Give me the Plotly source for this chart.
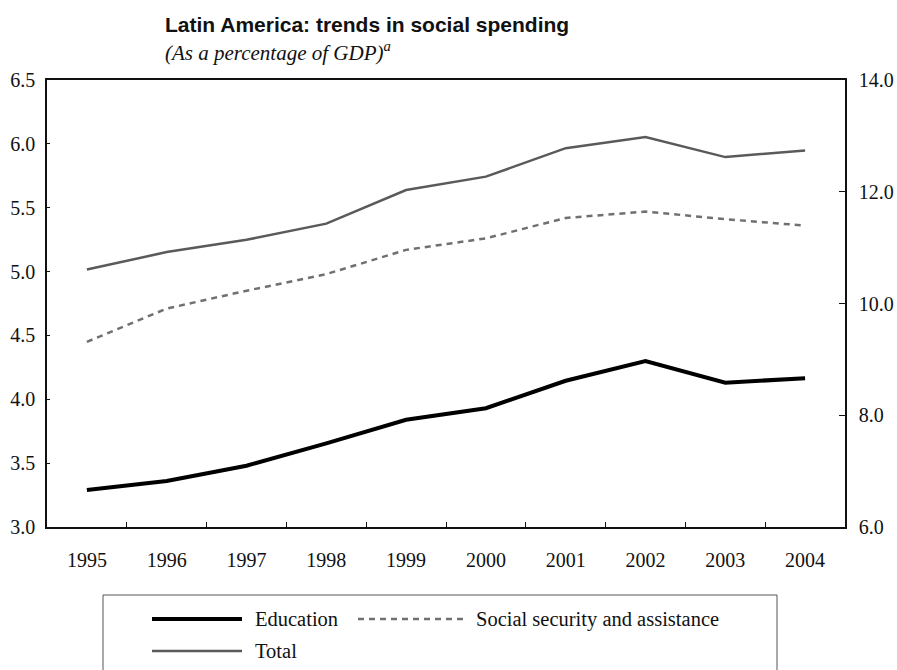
import plotly.graph_objects as go

# ---- data ----
years = ["1995", "1996", "1997", "1998", "1999", "2000", "2001", "2002", "2003", "2004"]
education = [3.29, 3.36, 3.48, 3.655, 3.84, 3.93, 4.145, 4.30, 4.13, 4.165]
social_security = [4.45, 4.71, 4.85, 4.98, 5.17, 5.26, 5.42, 5.47, 5.41, 5.36]
total = [10.61, 10.92, 11.14, 11.43, 12.03, 12.27, 12.78, 12.98, 12.62, 12.74]

left_ticks = [3.0, 3.5, 4.0, 4.5, 5.0, 5.5, 6.0, 6.5]
right_ticks = [6.0, 8.0, 10.0, 12.0, 14.0]

names = ["Education", "Social security and assistance", "Total"]

# ---- layout geometry ----
W, H = 897, 670
ML, MR, MT, MB = 47, 52, 80, 143
PW, PH = W - ML - MR, H - MT - MB

def px(x):
    return (x - ML) / PW

def py(y):
    return (H - MB - y) / PH

SERIF = "Liberation Serif, Times New Roman, serif"
SANS = "Liberation Sans, Arial, sans-serif"

styles = {
    "Education": dict(color="#000000", width=4),
    "Social security and assistance": dict(color="#707070", width=2.5, dash="6px,5px"),
    "Total": dict(color="#5a5a5a", width=2.5),
}

fig = go.Figure()
fig.add_trace(go.Scatter(x=years, y=education, mode="lines", name=names[0],
                         line=styles[names[0]], showlegend=False))
fig.add_trace(go.Scatter(x=years, y=social_security, mode="lines", name=names[1],
                         line=styles[names[1]], showlegend=False))
fig.add_trace(go.Scatter(x=years, y=total, mode="lines", name=names[2],
                         line=styles[names[2]], yaxis="y2", showlegend=False))

fig.update_layout(
    width=W, height=H, autosize=False,
    margin=dict(l=ML, r=MR, t=MT, b=MB, pad=0, autoexpand=False),
    paper_bgcolor="white", plot_bgcolor="white",
    showlegend=False,
    font=dict(family=SERIF, size=20, color="#111111"),
    xaxis=dict(
        type="category", tickson="boundaries", range=[-0.5, 9.5],
        automargin=False,
        showline=True, linecolor="#111111", linewidth=1.5, mirror=True,
        ticks="inside", ticklen=5, tickcolor="#111111", tickwidth=1,
        showgrid=False, zeroline=False,
        tickfont=dict(family=SERIF, size=20, color="#111111"),
        ticklabelstandoff=14,
    ),
    yaxis=dict(
        range=[3.0, 6.5], tickvals=left_ticks, tickformat=".1f",
        automargin=False,
        showline=True, linecolor="#111111", linewidth=1.5,
        ticks="inside", ticklen=3, tickcolor="#111111", tickwidth=1,
        showgrid=False, zeroline=False,
        tickfont=dict(family=SERIF, size=20, color="#111111"),
        ticklabelstandoff=6,
    ),
    yaxis2=dict(
        range=[6.0, 14.0], tickvals=right_ticks, tickformat=".1f",
        overlaying="y", side="right", automargin=False,
        showline=True, linecolor="#111111", linewidth=1.5,
        ticks="inside", ticklen=6, tickcolor="#111111", tickwidth=1,
        showgrid=False, zeroline=False,
        tickfont=dict(family=SERIF, size=20, color="#111111"),
        ticklabelstandoff=8,
    ),
)

# ---- title & subtitle ----
fig.add_annotation(text="<b>Latin America: trends in social spending</b>",
                   xref="paper", yref="paper", x=px(163), y=py(25),
                   xanchor="left", yanchor="middle", showarrow=False,
                   font=dict(family=SANS, size=21, color="#111111"))
fig.add_annotation(text="<i>(As a percentage of GDP)<sup>a</sup></i>",
                   xref="paper", yref="paper", x=px(163), y=py(52),
                   xanchor="left", yanchor="middle", showarrow=False,
                   font=dict(family=SERIF, size=21, color="#111111"))

# ---- legend (drawn box) ----
box_l, box_r, box_t, box_b = 103, 777, 595, 690
fig.add_shape(type="rect", xref="paper", yref="paper",
              x0=px(box_l), x1=px(box_r), y0=py(box_b), y1=py(box_t),
              line=dict(color="#555555", width=1), fillcolor="rgba(0,0,0,0)")

legend_items = [
    (names[0], 152, 242, 253, 619),
    (names[1], 358, 468, 474, 619),
    (names[2], 152, 242, 253, 651),
]
for name, x0, x1, xt, yy in legend_items:
    st = styles[name]
    fig.add_shape(type="line", xref="paper", yref="paper",
                  x0=px(x0), x1=px(x1), y0=py(yy), y1=py(yy),
                  line=dict(color=st["color"], width=st["width"],
                            dash=st.get("dash", "solid")))
    fig.add_annotation(text=name, xref="paper", yref="paper",
                       x=px(xt), y=py(yy), xanchor="left", yanchor="middle",
                       showarrow=False,
                       font=dict(family=SERIF, size=20.5, color="#111111"))

fig.write_html("out.html",
               config=dict(displayModeBar=False, responsive=False),
               post_script="document.body.style.margin='0';document.body.style.overflow='hidden';")
